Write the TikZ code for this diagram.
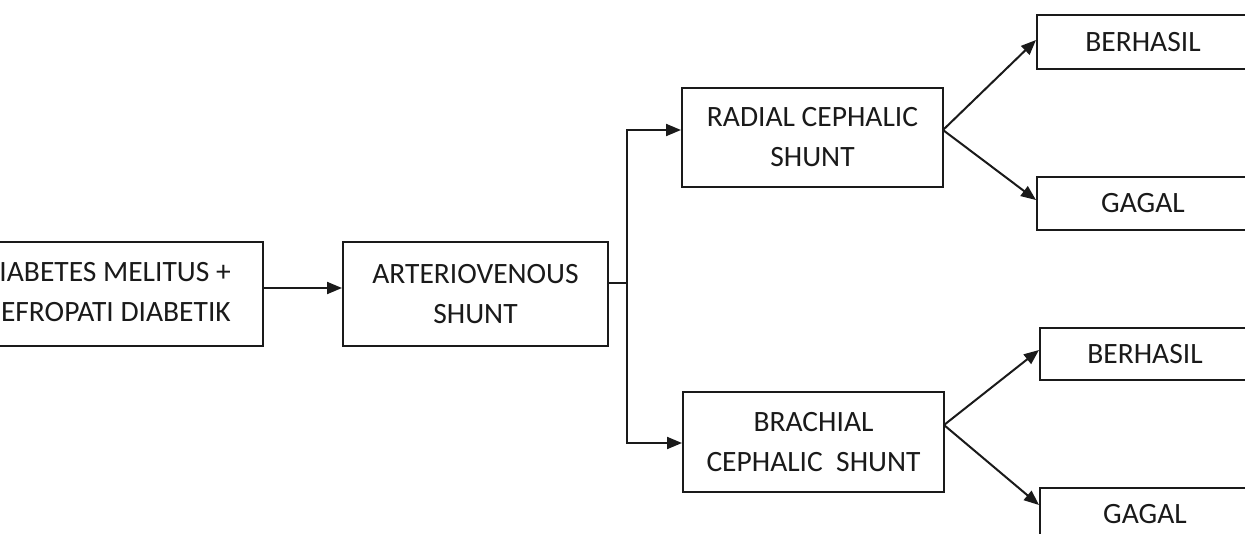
\documentclass[tikz,border=0pt]{standalone}
\usepackage{fontspec}
\setmainfont{Carlito}
\usetikzlibrary{arrows.meta,calc}
\definecolor{ink}{HTML}{1A1A1A}
\tikzset{
  box/.style={draw=ink, line width=2pt, align=center, inner sep=0pt,
    font=\fontsize{29.5}{40}\selectfont, text=ink},
  lbl/.style={inner sep=0pt, font=\fontsize{29.5}{40}\selectfont, text=ink},
  conn/.style={draw=ink, line width=2pt},
  arr/.style={conn, -{Triangle[length=15pt,width=12pt]}}
}
\begin{document}
\begin{tikzpicture}[x=1pt,y=-1pt]
\useasboundingbox (0,0) rectangle (1245,533);
\clip (0,0) rectangle (1245,533);
\fill[white] (0,0) rectangle (1245,533);
% main boxes
\node[box, minimum width=309pt, minimum height=104pt] (dm) at (108.5,294) {};
\node[lbl, align=right, anchor=east] (dmt) at (231,292) {IABETES MELITUS +\\EFROPATI DIABETIK};
\node[box, minimum width=265pt, minimum height=104pt] (av) at (475.5,294) {ARTERIOVENOUS\\SHUNT};
\node[box, minimum width=261pt, minimum height=99pt] (rc) at (812.5,137.5) {RADIAL CEPHALIC\\SHUNT};
\node[box, minimum width=261pt, minimum height=100pt] (bc) at (813.5,442) {BRACHIAL\\CEPHALIC\ \ SHUNT};
% outcome boxes
\node[box, minimum width=212pt, minimum height=54pt] (b1) at (1143,42) {BERHASIL};
\node[box, minimum width=212pt, minimum height=53pt] (g1) at (1143,203) {GAGAL};
\node[box, minimum width=210pt, minimum height=52pt] (b2) at (1145,354) {BERHASIL};
\node[box, minimum width=210pt, minimum height=52pt] (g2) at (1145,514) {GAGAL};
% connectors
\coordinate (y1) at (0,288);
\draw[arr] (dm.east |- y1) -- (av.west |- y1);
\coordinate (j) at (627,283);
\coordinate (ytop) at (0,130);
\coordinate (ybot) at (0,443);
\draw[conn] (av.east |- j) -- (j);
\draw[arr] (j) |- (rc.west |- ytop);
\draw[arr] (j) |- (bc.west |- ybot);
\coordinate (s1) at (943,130);
\coordinate (s2) at (944,425);
\draw[arr] (s1) -- (b1.west |- 0,40);
\draw[arr] (s1) -- (g1.west |- 0,200);
\draw[arr] (s2) -- (b2.west |- 0,350);
\draw[arr] (s2) -- (g2.west |- 0,505);
\end{tikzpicture}
\end{document}
